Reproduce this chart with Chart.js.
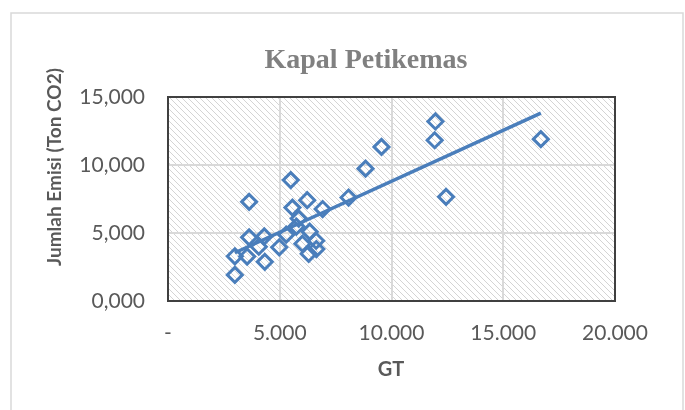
<!DOCTYPE html>
<html>
<head>
<meta charset="utf-8">
<script src="https://cdn.jsdelivr.net/npm/chart.js@4/dist/chart.umd.min.js"></script>
<style>
  html, body { margin: 0; padding: 0; background: #ffffff; }
  #wrap { width: 685px; height: 410px; position: relative; }
</style>
</head>
<body>
<div id="wrap"><canvas id="c" width="685" height="410"></canvas></div>
<script>
// ---- data ----
const chartTitle = 'Kapal Petikemas';
const xAxisTitle = 'GT';
const yAxisTitle = 'Jumlah Emisi (Ton CO2)';
const gt = [2991, 2991, 3540, 4330, 3629, 4308, 4062, 3629, 4977, 5290, 5491, 5567, 6227, 5848,
            5745, 6339, 6013, 6294, 6638, 6629, 6919, 8080, 8839, 9553, 11964, 11932, 12441, 16682];
const emisi = [1.92, 3.29, 3.27, 2.88, 4.68, 4.75, 3.99, 7.29, 3.95, 4.88, 8.89, 6.87, 7.41, 6.06,
               5.47, 5.10, 4.21, 3.47, 3.82, 4.43, 6.76, 7.61, 9.73, 11.33, 13.20, 11.82, 7.66, 11.90];
const xTicks = [0, 5000, 10000, 15000, 20000];
const yTicks = [0, 5, 10, 15];

// ---- derived ----
const points = gt.map((x, i) => ({ x: x, y: emisi[i] }));
const n = gt.length;
const mx = gt.reduce((a, b) => a + b, 0) / n;
const my = emisi.reduce((a, b) => a + b, 0) / n;
let sxy = 0, sxx = 0;
for (let i = 0; i < n; i++) { sxy += (gt[i] - mx) * (emisi[i] - my); sxx += (gt[i] - mx) ** 2; }
const slope = sxy / sxx, icpt = my - slope * mx;
const xmin = Math.min(...gt), xmax = Math.max(...gt);
const trend = [{ x: xmin, y: icpt + slope * xmin }, { x: xmax, y: icpt + slope * xmax }];

const BLUE = '#4A7EBB';
const TXT = '#595959';

// hatch pattern
function makePattern(ctx) {
  const p = document.createElement('canvas');
  p.width = 6; p.height = 6;
  const pc = p.getContext('2d');
  pc.fillStyle = '#ffffff'; pc.fillRect(0, 0, 6, 6);
  pc.fillStyle = '#d4d4d4';
  for (let i = 0; i < 6; i++) pc.fillRect(i, i, 1, 1);
  return ctx.createPattern(p, 'repeat');
}

const decor = {
  id: 'decor',
  beforeDraw(chart) {
    const { ctx, chartArea: a } = chart;
    ctx.save();
    ctx.fillStyle = '#ffffff';
    ctx.fillRect(0, 0, chart.width, chart.height);
    ctx.strokeStyle = '#d9d9d9';
    ctx.lineWidth = 1.5;
    ctx.strokeRect(11, 13, 672, 420);
    ctx.fillStyle = makePattern(ctx);
    ctx.fillRect(a.left, a.top, a.right - a.left, a.bottom - a.top);
    ctx.restore();
  },
  beforeDatasetsDraw(chart) {
    const { ctx, chartArea: a } = chart;
    ctx.save();
    ctx.strokeStyle = '#404040';
    ctx.lineWidth = 2;
    ctx.strokeRect(a.left, a.top, a.right - a.left, a.bottom - a.top);
    ctx.restore();
  },
  afterDraw(chart) {
    const { ctx } = chart;
    ctx.save();
    ctx.textAlign = 'center';
    ctx.textBaseline = 'middle';
    ctx.fillStyle = '#808080';
    ctx.font = 'bold 28px "Liberation Serif"';
    ctx.fillText(chartTitle, 366, 61);
    ctx.fillStyle = TXT;
    ctx.font = 'bold 20px Lato';
    ctx.fillText(xAxisTitle, 391, 370);
    ctx.font = 'bold 19px Lato';
    ctx.translate(55, 167);
    ctx.rotate(-Math.PI / 2);
    ctx.fillText(yAxisTitle, 0, 0);
    ctx.restore();
  }
};

new Chart(document.getElementById('c'), {
  type: 'scatter',
  data: {
    datasets: [
      {
        label: 'Emisi',
        data: points,
        pointStyle: 'rectRot',
        pointRadius: 7.5,
        pointHoverRadius: 7.5,
        pointBackgroundColor: 'rgba(0,0,0,0)',
        pointBorderColor: BLUE,
        pointBorderWidth: 3,
        showLine: false,
        order: 1
      },
      {
        label: 'Trend',
        data: trend,
        type: 'line',
        borderColor: BLUE,
        borderWidth: 3.5,
        pointRadius: 0,
        fill: false,
        order: 2
      }
    ]
  },
  options: {
    responsive: false,
    animation: false,
    events: [],
    layout: { padding: { left: 0, right: 70, top: 97, bottom: 0 } },
    plugins: {
      legend: { display: false },
      tooltip: { enabled: false },
      title: { display: false }
    },
    scales: {
      x: {
        type: 'linear',
        min: 0, max: 20000,
        afterBuildTicks(s) { s.ticks = xTicks.map(v => ({ value: v })); },
        afterFit(s) { s.height = 109; },
        grid: { color: '#d9d9d9', lineWidth: 2, drawTicks: false },
        border: { display: false },
        ticks: {
          color: TXT,
          padding: 20,
          maxRotation: 0,
          font: { family: 'Lato', size: 21 },
          callback: v => v === 0 ? '-' : v.toLocaleString('de-DE')
        }
      },
      y: {
        type: 'linear',
        min: 0, max: 15,
        afterBuildTicks(s) { s.ticks = yTicks.map(v => ({ value: v })); },
        afterFit(s) { s.width = 168; },
        grid: { color: '#d9d9d9', lineWidth: 2, drawTicks: false },
        border: { display: false },
        ticks: {
          color: TXT,
          padding: 23,
          font: { family: 'Lato', size: 21 },
          callback: v => v.toFixed(3).replace('.', ',')
        }
      }
    }
  },
  plugins: [decor]
});
</script>
</body>
</html>
